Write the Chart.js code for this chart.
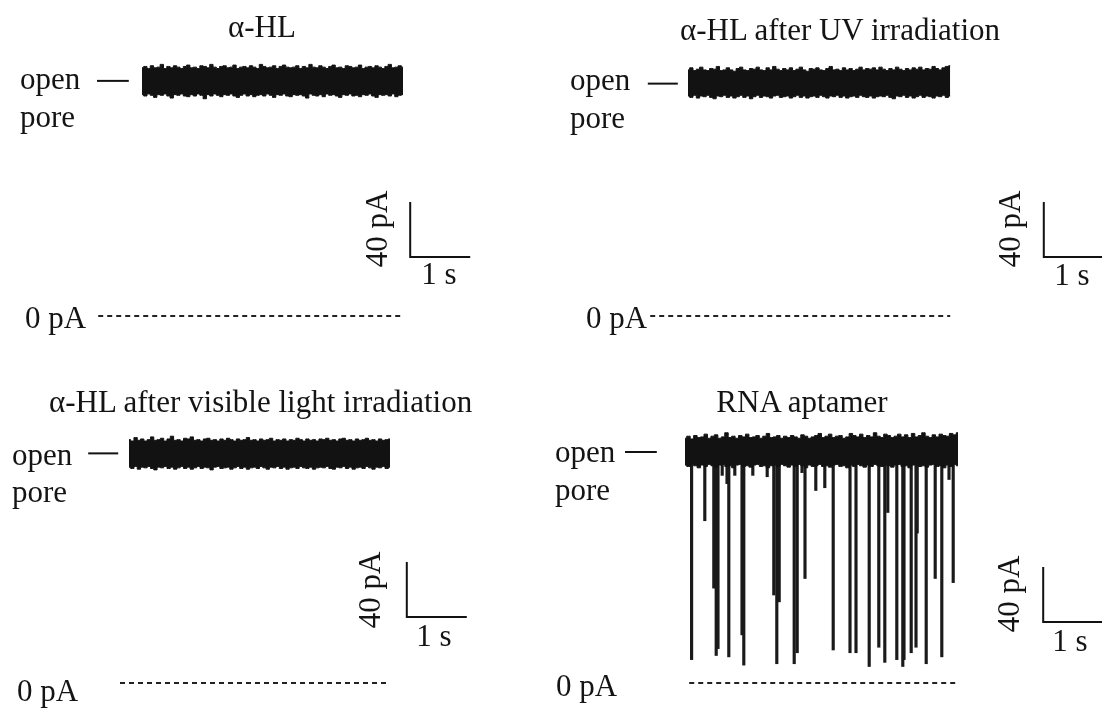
<!DOCTYPE html>
<html>
<head>
<meta charset="utf-8">
<script src="https://cdn.jsdelivr.net/npm/chart.js@4.4.0/dist/chart.umd.min.js"></script>
<style>
html, body { margin: 0; padding: 0; background: #fff; }
#fig { position: relative; width: 1102px; height: 709px; overflow: hidden;
       font-family: "Liberation Serif", "Times New Roman", serif; color: #141414; }
#fig canvas { position: absolute; }
.lbl { position: absolute; font-size: 31px; line-height: 31px; white-space: nowrap; }
.c { transform: translateX(-50%); }
.rot { transform: translate(-50%, -50%) rotate(-90deg); }
</style>
</head>
<body>
<div id="fig">
  <canvas id="p1" width="551" height="354" style="left:0;top:0"></canvas>
  <canvas id="p2" width="551" height="354" style="left:551px;top:0"></canvas>
  <canvas id="p3" width="551" height="355" style="left:0;top:354px"></canvas>
  <canvas id="p4" width="551" height="355" style="left:551px;top:354px"></canvas>

  <!-- α-HL -->
  <div class="lbl c" style="left:262px;top:11px">α-HL</div>
  <div class="lbl" style="left:20px;top:63px">open</div>
  <div class="lbl" style="left:20px;top:101px">pore</div>
  <div class="lbl" style="left:25px;top:302px">0 pA</div>
  <div class="lbl rot" style="left:376px;top:229px">40 pA</div>
  <div class="lbl c" style="left:439px;top:258px">1 s</div>

  <!-- UV -->
  <div class="lbl c" style="left:840px;top:14px">α-HL after UV irradiation</div>
  <div class="lbl" style="left:570px;top:64px">open</div>
  <div class="lbl" style="left:570px;top:102px">pore</div>
  <div class="lbl" style="left:586px;top:302px">0 pA</div>
  <div class="lbl rot" style="left:1009px;top:229px">40 pA</div>
  <div class="lbl c" style="left:1072px;top:259px">1 s</div>

  <!-- visible light -->
  <div class="lbl" style="left:49px;top:386px">α-HL after visible light irradiation</div>
  <div class="lbl" style="left:12px;top:439px">open</div>
  <div class="lbl" style="left:12px;top:476px">pore</div>
  <div class="lbl" style="left:17px;top:675px">0 pA</div>
  <div class="lbl rot" style="left:369px;top:590px">40 pA</div>
  <div class="lbl c" style="left:434px;top:620px">1 s</div>

  <!-- RNA aptamer -->
  <div class="lbl c" style="left:802px;top:386px">RNA aptamer</div>
  <div class="lbl" style="left:555px;top:436px">open</div>
  <div class="lbl" style="left:555px;top:474px">pore</div>
  <div class="lbl" style="left:556px;top:670px">0 pA</div>
  <div class="lbl rot" style="left:1008px;top:594px">40 pA</div>
  <div class="lbl c" style="left:1070px;top:625px">1 s</div>
</div>

<script>
// current traces: upper / lower envelope of the open-pore noise band (pA)
const hlTop = [180.5,181.5,180,182,180.5,181,183,180,181.5,180.5,182,181,180,181.5,182.5,180.5,181,180,182,181.5,180.5,183,181,180,181.5,182,180.5,181,182.5,180,181,181.5,180.5,182,181,180,183,181.5,180.5,181,182,180,181.5,182.5,181,180.5,181,182,180,181.5,180.5,183,181,180.5,182,181,180,181.5,182.5,180.5,181,180,182,181.5,180.5,181,182.5,180,181,181.5,180.5,182,181,180,181.5,183,180.5,181,182,181];
const hlBottom = [161,160,161.5,160.5,159,161,160.5,161.5,160,158.5,161,160.5,161.5,160,159.5,161,160,161.5,160.5,158,161,160,161.5,160.5,159.5,161,160.5,161.5,160,159,160.5,161.5,160,161,159.5,160.5,161,160,161.5,160.5,159,161,160.5,161.5,160,159.5,161,160.5,161,160,158.5,161.5,160.5,160,161,159.5,161.5,160.5,161,160,159,161,160.5,161.5,160,160.5,159.5,161,160.5,161.5,160,159,161,160.5,161,160,161.5,159.5,160.5,161];

const uvTop = [179,180.5,178.5,179.5,181,179,178.5,180,179.5,181.5,178.5,179,180.5,179,178,180,181,179,178.5,180,179.5,181,179,178.5,180.5,179,181.5,179.5,178.5,180,179,180.5,178.5,179.5,181,179,178,180,179.5,180.5,179,178.5,180,181.5,179,179.5,178.5,180.5,179,180,178.5,179.5,181,179,180,179.5,180.5,179,181,179.5,178.5,180,179,181,179.5,178.5,180,179,180.5,179.5,181,179,180,179.5,181.5,180,179,180.5,181.5,182];
const uvBottom = [160,159,160.5,158.5,160,159.5,160.5,159,158,160,159.5,160.5,159,160,158.5,159.5,160.5,159,160,158,159.5,160.5,159,160,159.5,158.5,160,160.5,159,159.5,160,158.5,159.5,160.5,159,160,158.5,159.5,160,159,160.5,159.5,158.5,160,159.5,160.5,159,160,158.5,159.5,160,159,160.5,159.5,159,160,158.5,159.5,160,159.5,160.5,159,158,160,159.5,160.5,159,160,158.5,159.5,160.5,159,160,159.5,158.5,160,159.5,160.5,159,160];

const visTop = [177,176,178.5,176.5,177.5,176,177,179,176.5,177,178,176,177.5,179.5,176.5,177,176,178,177.5,179,176.5,177,176,177.5,178,176.5,177,176,177.5,176.5,178,177,176,177.5,176.5,177,178.5,176.5,177,176,177.5,176.5,177,178,176,177,176.5,177.5,176,177,176.5,178,177,176,177.5,176.5,177,176,177.5,177,178,176.5,177,176,177.5,178,176.5,177,176,177.5,176.5,177,178,176.5,177,176,177.5,176.5,177,177.5];
const visBottom = [157,156,157.5,155.5,157,156.5,157.5,156,155,157,156.5,157.5,156,157,155.5,156.5,157.5,156,157,155.5,156.5,157.5,156,157,156.5,155,157,157.5,156,156.5,157,155.5,156.5,157.5,156,157,155.5,156.5,157,156,157.5,156.5,155.5,157,156.5,157.5,156,157,155.5,156.5,157,156,157.5,156.5,156,157,155.5,156.5,157,156.5,157.5,156,155.5,157,156.5,157.5,156,157,155.5,156.5,157,156,157.5,156.5,155.5,157,156.5,157.5,156,157];

const rnaTop = [178,179.5,177.5,180,178.5,179,181,178,179.5,180.5,178,179,182,178.5,179.5,178,180,179,181,178.5,179,180,178,179.5,181.5,178.5,179,180,178,179.5,178.5,180,179,178,180.5,179.5,178,179,180,181.5,178.5,179.5,181,178.5,179.5,180,178,179,181.5,180,179,181,178.5,180,179,182,179.5,178.5,181,180,178.5,179.5,181,179,180.5,178.5,181.5,179,180,182,179.5,178.5,180.5,179,181,180,179.5,181.5,180.5,182];
const rnaBottom = [158.5,157.5,159,158,156.5,158.5,157.5,159,158,157,158.5,159,157.5,158,156.5,158.5,159,157.5,158,157,158.5,159,157.5,158,156.5,158,158.5,157.5,159,158,157,158.5,157.5,159,158,156.5,158.5,157.5,158,159,157.5,158,157,158.5,159,157.5,158,156.5,158.5,157.5,159,158,157,158.5,157.5,159,158,157.5,158.5,158,157,158.5,159,157.5,158,156.5,158.5,159,157.5,158,157,158.5,159,157.5,158,156.5,158.5,157.5,159,158];

// RNA aptamer blockade events: time (s) and blocked current (pA)
const rnaEventTimes = [0.11,0.33,0.48,0.52,0.55,0.62,0.70,0.73,0.83,0.95,0.98,1.13,1.37,1.48,1.53,1.57,1.82,1.87,1.95,2.00,2.18,2.33,2.47,2.75,2.85,3.07,3.23,3.33,3.38,3.53,3.63,3.65,3.77,3.85,3.87,4.02,4.17,4.28,4.40,4.47];
const rnaEventLevels = [17,118,69,20,25,151,145,19,151,35,13,151,150,64,14,59,14,22,153,76,140,142,24,22,22,12,26,15,124,17,12,17,22,26,109,14,76,19,148,73];

// open pore current (pA) and record length (s) per trace
const openLevels = [171, 169, 167, 168];
const durations = [4.35, 4.37, 4.35, 4.55];

// "open pore" tick, 0 pA reference line, scale bar corner (s / pA)
const markerSpans = [[-0.75, -0.22], [-0.67, -0.17], [-0.68, -0.18], [-1.0, -0.47]];
const zeroSpans = [[-0.73, 4.33], [-0.63, 4.37], [-0.15, 4.32], [0.07, 4.55]];
const scaleBarCorners = [[4.47, 42.9], [5.93, 42.9], [4.63, 48], [5.97, 44.4]];
const SCALE_S = 1;
const SCALE_PA = 40;

// common display scale so the 1 s / 40 pA bars are identical in every panel
const PX_PER_S = 60;
const PX_PER_PA = 1.375;

const INK = '#121212';

function envelope(values, duration) {
    const step = duration / (values.length - 1);
    return values.map((v, i) => ({ x: i * step, y: v }));
}

function buildPanel(canvasId, layout, idx, top, bottom, extra) {
    const xMin = (layout.left - layout.t0px) / PX_PER_S;
    const xMax = (layout.left + layout.w - layout.t0px) / PX_PER_S;
    const yMax = (layout.zeroPx - layout.top) / PX_PER_PA;
    const yMin = (layout.zeroPx - layout.top - layout.h) / PX_PER_PA;

    const open = openLevels[idx];
    const mk = markerSpans[idx];
    const zs = zeroSpans[idx];
    const sb = scaleBarCorners[idx];

    const datasets = [
        {
            label: 'upper',
            data: envelope(top, durations[idx]),
            borderColor: INK, backgroundColor: INK, borderWidth: 1,
            stepped: 'middle',
            fill: '+1'
        },
        {
            label: 'lower',
            data: envelope(bottom, durations[idx]),
            borderColor: INK, borderWidth: 1,
            stepped: 'middle',
            fill: false
        },
        {
            label: 'open pore',
            data: [{ x: mk[0], y: open }, { x: mk[1], y: open }],
            borderColor: INK, borderWidth: 2, fill: false
        },
        {
            label: '0 pA',
            data: [{ x: zs[0], y: 0 }, { x: zs[1], y: 0 }],
            borderColor: '#222', borderWidth: 1.8, borderDash: [5, 4], fill: false
        },
        {
            label: 'scale',
            data: [
                { x: sb[0], y: sb[1] + SCALE_PA },
                { x: sb[0], y: sb[1] },
                { x: sb[0] + SCALE_S, y: sb[1] }
            ],
            borderColor: INK, borderWidth: 2, fill: false
        }
    ];
    if (extra) datasets.push(extra);

    return new Chart(document.getElementById(canvasId), {
        type: 'line',
        data: { datasets: datasets },
        options: {
            responsive: false,
            animation: false,
            events: [],
            layout: { padding: 0 },
            elements: { point: { radius: 0 }, line: { tension: 0 } },
            plugins: { legend: { display: false }, tooltip: { enabled: false } },
            scales: {
                x: { type: 'linear', min: xMin, max: xMax, offset: false, display: false },
                y: { type: 'linear', min: yMin, max: yMax, display: false }
            }
        }
    });
}

// blockade events as floating bars from the open level down to the blocked level
const rnaEvents = {
    type: 'bar',
    label: 'events',
    data: rnaEventTimes.map((t, i) => ({ x: t, y: [rnaEventLevels[i], openLevels[3]] })),
    backgroundColor: '#1a1a1a',
    borderWidth: 0,
    barThickness: 2.5,
    grouped: false
};

buildPanel('p1', { left: 0, top: 0, w: 551, h: 354, t0px: 142, zeroPx: 316 }, 0, hlTop, hlBottom);
buildPanel('p2', { left: 551, top: 0, w: 551, h: 354, t0px: 688, zeroPx: 316 }, 1, uvTop, uvBottom);
buildPanel('p3', { left: 0, top: 354, w: 551, h: 355, t0px: 129, zeroPx: 683 }, 2, visTop, visBottom);
buildPanel('p4', { left: 551, top: 354, w: 551, h: 355, t0px: 685, zeroPx: 683 }, 3, rnaTop, rnaBottom, rnaEvents);
</script>
</body>
</html>
